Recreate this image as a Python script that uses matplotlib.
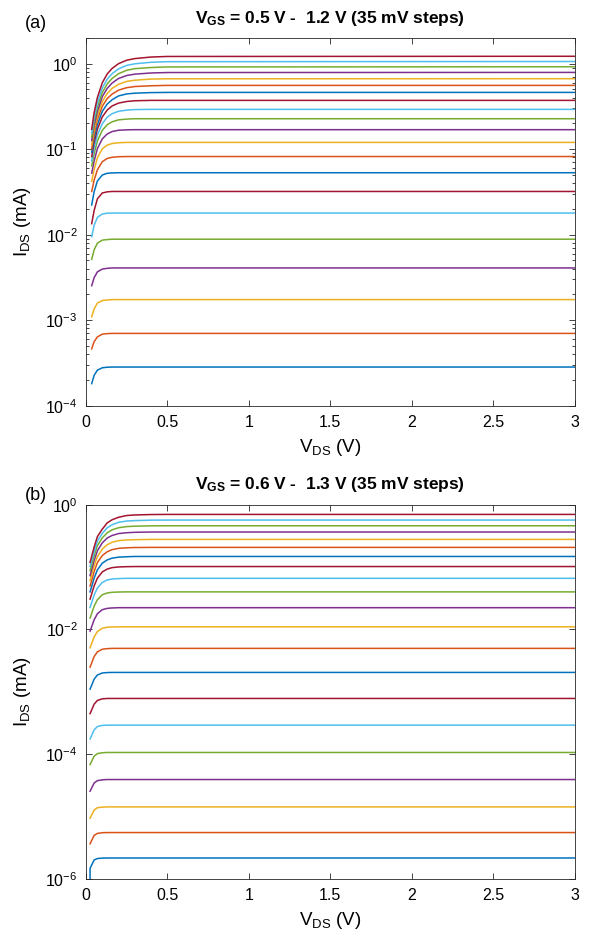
import numpy as np
import matplotlib
matplotlib.use("Agg")
import matplotlib.pyplot as plt
from matplotlib.ticker import LogLocator, NullLocator, FixedLocator

plt.rcParams['font.family'] = ['Liberation Sans', 'DejaVu Sans']
plt.rcParams['mathtext.fontset'] = 'custom'
plt.rcParams['mathtext.rm'] = 'Liberation Sans'
plt.rcParams['mathtext.it'] = 'Liberation Sans:italic'
plt.rcParams['mathtext.bf'] = 'Liberation Sans:bold'

COLORS = ['#0072BD', '#D95319', '#EDB120', '#7E2F8E', '#77AC30', '#4DBEEE', '#A2142F']

# drain voltages where the curves were read (V)
vds_a = [0.035, 0.05, 0.07, 0.1, 0.13, 0.16, 0.2, 0.25, 0.3, 0.4, 0.5, 3.0]
vds_b = [0.025, 0.05, 0.07, 0.1, 0.13, 0.16, 0.2, 0.25, 0.3, 0.4, 0.5, 3.0]

# saturation current per VGS step (mA), lowest VGS first
isat_a = [2.83e-4, 7.0e-4, 1.74e-3, 4.08e-3, 8.85e-3, 0.0179, 0.032,
          0.053, 0.082, 0.12, 0.169, 0.227, 0.292, 0.372, 0.461,
          0.557, 0.667, 0.79, 0.92, 1.06, 1.22]
isat_b = [2.15e-6, 5.5e-6, 1.42e-5, 3.9e-5, 1.06e-4, 2.91e-4, 7.8e-4,
          2.04e-3, 4.96e-3, 0.011, 0.0223, 0.040, 0.066, 0.102, 0.148,
          0.207, 0.278, 0.365, 0.46, 0.568, 0.70]

# I/Isat at the vds points (rows end once the curve is flat)
frac_a = [
    [0.64, 0.80, 0.92, 0.98, 0.995],
    [0.66, 0.80, 0.91, 0.98, 0.995],
    [0.63, 0.78, 0.91, 0.975, 0.99],
    [0.62, 0.77, 0.90, 0.97, 0.99],
    [0.58, 0.75, 0.90, 0.975, 0.99],
    [0.53, 0.72, 0.89, 0.975, 0.995],
    [0.42, 0.60, 0.82, 0.96, 0.99],
    [0.42, 0.60, 0.80, 0.94, 0.985, 0.995],
    [0.39, 0.53, 0.70, 0.87, 0.95, 0.98, 0.995],
    [0.35, 0.48, 0.66, 0.84, 0.93, 0.97, 0.99],
    [0.31, 0.43, 0.60, 0.78, 0.89, 0.95, 0.985, 0.995],
    [0.28, 0.39, 0.55, 0.73, 0.85, 0.92, 0.97, 0.99],
    [0.25, 0.35, 0.50, 0.68, 0.81, 0.89, 0.95, 0.98, 0.995],
    [0.22, 0.32, 0.46, 0.64, 0.77, 0.86, 0.93, 0.97, 0.99],
    [0.20, 0.29, 0.42, 0.60, 0.73, 0.82, 0.91, 0.96, 0.98, 0.995],
    [0.18, 0.27, 0.40, 0.57, 0.70, 0.79, 0.88, 0.94, 0.97, 0.99],
    [0.17, 0.25, 0.37, 0.54, 0.67, 0.77, 0.86, 0.93, 0.96, 0.99, 0.998],
    [0.16, 0.24, 0.35, 0.52, 0.65, 0.75, 0.85, 0.92, 0.955, 0.985, 0.997],
    [0.15, 0.23, 0.34, 0.50, 0.63, 0.73, 0.83, 0.91, 0.95, 0.98, 0.995],
    [0.145, 0.22, 0.33, 0.49, 0.62, 0.72, 0.82, 0.90, 0.94, 0.98, 0.995],
    [0.14, 0.22, 0.33, 0.49, 0.62, 0.72, 0.82, 0.90, 0.94, 0.98, 0.995],
]
frac_b = [
    [0.68, 0.93, 0.98, 0.995],
    [0.66, 0.90, 0.97, 0.995],
    [0.66, 0.89, 0.97, 0.99],
    [0.65, 0.88, 0.96, 0.99],
    [0.64, 0.87, 0.96, 0.99],
    [0.60, 0.84, 0.95, 0.99],
    [0.57, 0.81, 0.93, 0.985],
    [0.54, 0.78, 0.91, 0.98, 0.995],
    [0.50, 0.74, 0.88, 0.97, 0.99],
    [0.46, 0.69, 0.84, 0.95, 0.985, 0.995],
    [0.42, 0.64, 0.80, 0.93, 0.975, 0.99],
    [0.38, 0.59, 0.75, 0.90, 0.96, 0.985, 0.995],
    [0.34, 0.54, 0.70, 0.86, 0.94, 0.975, 0.99],
    [0.30, 0.49, 0.65, 0.82, 0.91, 0.96, 0.985, 0.995],
    [0.27, 0.45, 0.61, 0.78, 0.88, 0.94, 0.975, 0.99],
    [0.24, 0.41, 0.57, 0.74, 0.85, 0.92, 0.965, 0.985, 0.995],
    [0.22, 0.38, 0.53, 0.70, 0.82, 0.90, 0.955, 0.98, 0.99],
    [0.20, 0.35, 0.50, 0.67, 0.80, 0.88, 0.945, 0.975, 0.99],
    [0.19, 0.33, 0.48, 0.64, 0.77, 0.86, 0.93, 0.97, 0.985, 0.998],
    [0.18, 0.31, 0.46, 0.61, 0.75, 0.84, 0.92, 0.965, 0.98, 0.997],
    [0.17, 0.30, 0.44, 0.58, 0.73, 0.82, 0.90, 0.96, 0.98, 0.995],
]
# lowest curve of (b) drops below the axis at its first point
b_first_low = 1e-7

xticks = [0, 0.5, 1, 1.5, 2, 2.5, 3]
xticklabels = ['0', '0.5', '1', '1.5', '2', '2.5', '3']
titles = [r'$\mathbf{V_{GS}}$ = 0.5 V -  1.2 V (35 mV steps)',
          r'$\mathbf{V_{GS}}$ = 0.6 V -  1.3 V (35 mV steps)']
panel_tags = ['(a)', '(b)']
tag_y = [1.027, 1.013]

fig = plt.figure(figsize=(5.89, 9.41), dpi=100)
ax_a = fig.add_axes([0.146, 0.5689, 0.8297, 0.3908])
ax_b = fig.add_axes([0.146, 0.0662, 0.8297, 0.3974])

panels = [(ax_a, vds_a, isat_a, frac_a, (1e-4, 2.0)),
          (ax_b, vds_b, isat_b, frac_b, (1e-6, 1.0))]

for k, (ax, vds, isat, frac, ylim) in enumerate(panels):
    for i, (sat, row) in enumerate(zip(isat, frac)):
        f = list(row) + [1.0] * (len(vds) - len(row))
        x = list(vds)
        y = [sat * v for v in f]
        if k == 1 and i == 0:
            x = [vds[0]] + x
            y = [b_first_low] + y
        ax.plot(x, y, color=COLORS[i % len(COLORS)], lw=1.1)

    ax.set_yscale('log')
    ax.set_xlim(0, 3)
    ax.set_ylim(*ylim)
    ax.set_xticks(xticks)
    ax.set_xticklabels(xticklabels)
    if k == 0:
        ax.yaxis.set_major_locator(FixedLocator([1e-4, 1e-3, 1e-2, 1e-1, 1e0]))
        ax.yaxis.set_minor_locator(LogLocator(base=10, subs=np.arange(2, 10), numticks=20))
    else:
        ax.yaxis.set_major_locator(FixedLocator([1e-6, 1e-4, 1e-2, 1e0]))
        ax.yaxis.set_minor_locator(NullLocator())

    ax.tick_params(which='both', direction='in', top=True, right=True,
                   colors='#262626', labelcolor='black', labelsize=11.5, width=0.6)
    ax.tick_params(which='major', length=4.5)
    ax.tick_params(which='minor', length=2.5)
    ax.tick_params(axis='x', pad=7)
    ax.tick_params(axis='y', pad=6)
    for s in ax.spines.values():
        s.set_color('#262626')
        s.set_linewidth(0.6)

    ax.set_xlabel(r'V$_{\mathrm{DS}}$ (V)', fontsize=13.5, labelpad=5)
    ax.set_ylabel(r'I$_{\mathrm{DS}}$ (mA)', fontsize=13.5, labelpad=9)
    ax.set_title(titles[k], fontsize=12.5, fontweight='bold', pad=11)
    ax.text(-0.125, tag_y[k], panel_tags[k], transform=ax.transAxes,
            fontsize=13, ha='left', va='baseline')

fig.savefig('out.png', dpi=100)
